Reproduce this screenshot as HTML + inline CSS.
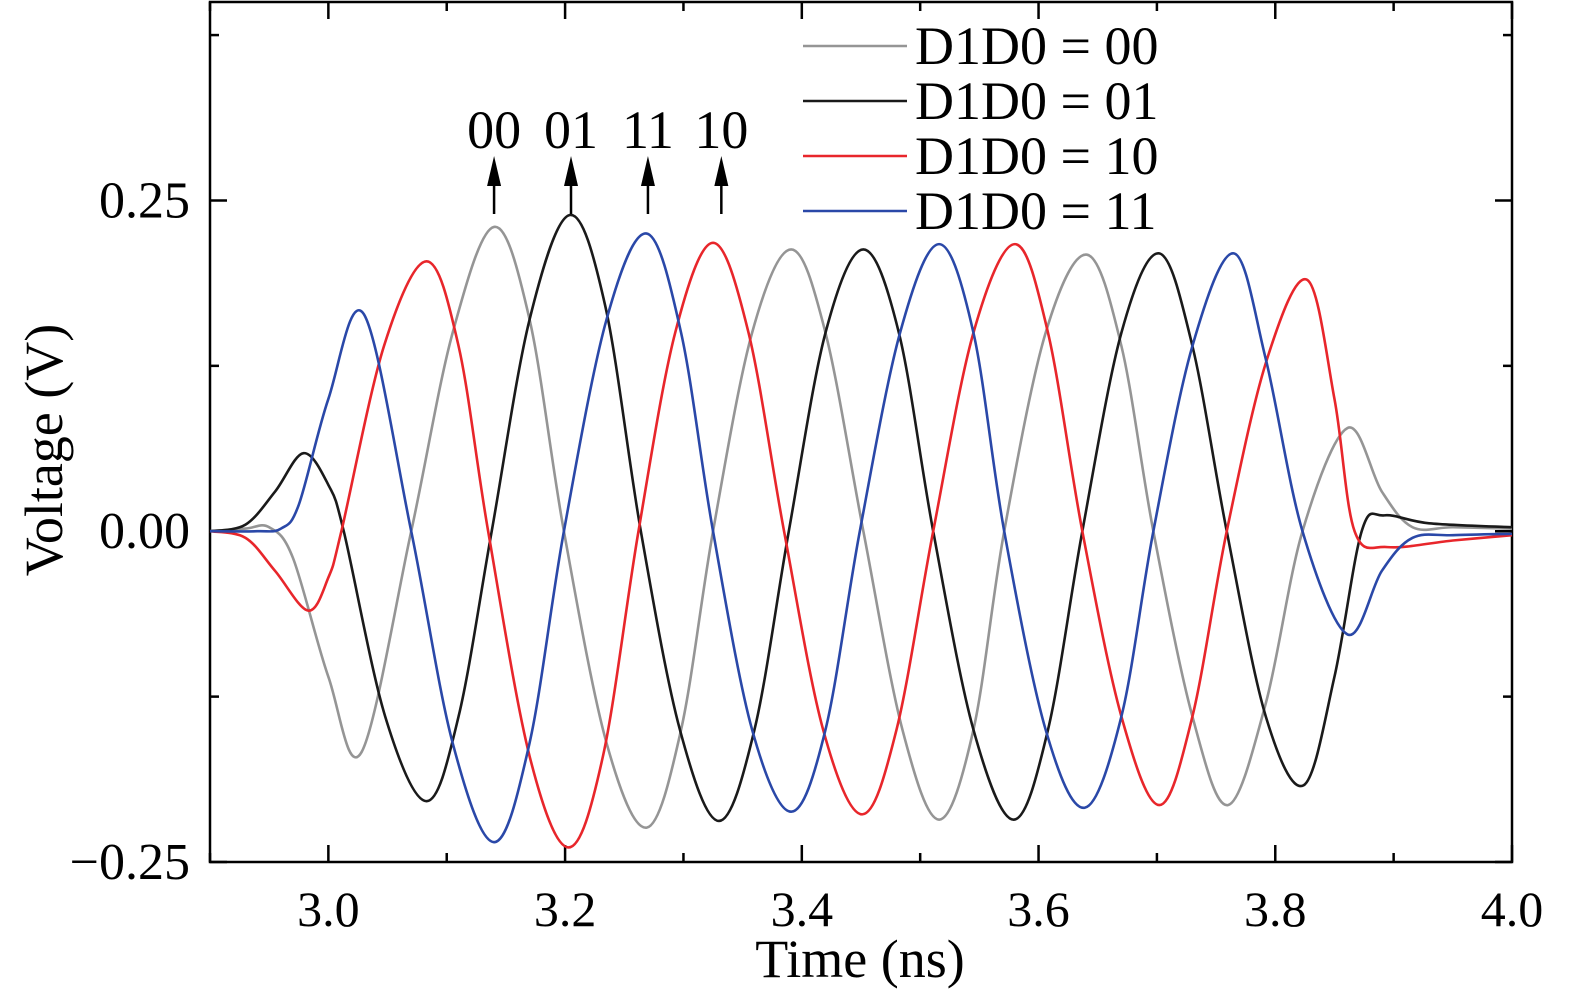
<!DOCTYPE html>
<html><head><meta charset="utf-8"><style>
body{margin:0;background:#fff;}
svg{display:block;font-family:"Liberation Serif",serif;}
</style></head><body>
<svg id="chart" width="1575" height="999" viewBox="0 0 1575 999">
<g id="grid"></g>
<g id="series"></g>
<g id="annot"></g>
<g id="legend"></g>
</svg>
<script>
const xTicks=[3.0,3.2,3.4,3.6,3.8,4.0];
const xTickLabels=["3.0","3.2","3.4","3.6","3.8","4.0"];
const yTicks=[0.25,0,-0.25];
const yTickLabels=["0.25","0.00","\u22120.25"];
const seriesNames=["D1D0 = 00","D1D0 = 01","D1D0 = 10","D1D0 = 11"];
const seriesColors=["#959595","#1a1a1a","#e8262b","#2a48a8"];
const t00=[2.9,2.93,2.95,2.97,3.0,3.028,3.07,3.105,3.14,3.17,3.199,3.235,3.269,3.298,3.325,3.358,3.391,3.42,3.452,3.485,3.516,3.545,3.571,3.606,3.641,3.67,3.697,3.73,3.76,3.792,3.823,3.861,3.89,3.916,3.95,4.0];
const v00=[0,0.002,0.003,-0.02,-0.11,-0.167,0,0.15,0.230,0.16,0,-0.16,-0.224,-0.15,0,0.15,0.213,0.15,0,-0.15,-0.218,-0.15,0,0.15,0.209,0.14,0,-0.14,-0.207,-0.13,0,0.078,0.03,0.003,0.003,0.002];
const t01=[2.9,2.93,2.955,2.979,3.0,3.013,3.048,3.083,3.11,3.138,3.17,3.204,3.234,3.264,3.297,3.330,3.36,3.389,3.42,3.452,3.482,3.511,3.545,3.579,3.608,3.637,3.67,3.702,3.73,3.759,3.792,3.824,3.85,3.873,3.892,3.93,4.0];
const v01=[0,0.005,0.03,0.059,0.035,0,-0.14,-0.204,-0.14,0,0.16,0.239,0.17,0,-0.15,-0.219,-0.15,0,0.15,0.213,0.15,0,-0.15,-0.218,-0.15,0,0.15,0.210,0.14,0,-0.14,-0.192,-0.11,0,0.012,0.006,0.003];
const t10=[2.9,2.93,2.955,2.983,3.0,3.011,3.047,3.083,3.11,3.135,3.17,3.203,3.232,3.262,3.293,3.325,3.355,3.385,3.418,3.451,3.48,3.511,3.545,3.580,3.608,3.637,3.67,3.702,3.73,3.759,3.793,3.827,3.85,3.867,3.895,3.95,4.0];
const v10=[0,-0.005,-0.03,-0.060,-0.035,0,0.14,0.204,0.14,0,-0.17,-0.239,-0.17,0,0.15,0.218,0.15,0,-0.15,-0.214,-0.15,0,0.15,0.217,0.15,0,-0.14,-0.207,-0.14,0,0.13,0.190,0.1,0,-0.012,-0.007,-0.003];
const t11=[2.9,2.94,2.96,2.975,3.0,3.03,3.07,3.105,3.14,3.17,3.199,3.235,3.269,3.298,3.325,3.358,3.391,3.42,3.449,3.483,3.516,3.545,3.571,3.606,3.639,3.67,3.697,3.73,3.765,3.792,3.823,3.861,3.89,3.916,3.95,4.0];
const v11=[0,0,0.002,0.02,0.1,0.164,0,-0.16,-0.235,-0.16,0,0.16,0.225,0.15,0,-0.15,-0.212,-0.15,0,0.15,0.217,0.15,0,-0.15,-0.209,-0.14,0,0.14,0.210,0.13,0,-0.078,-0.03,-0.005,-0.003,-0.002];
const allT=[t00,t01,t10,t11], allV=[v00,v01,v10,v11];
const arrowT=[3.14,3.205,3.27,3.332];
const arrowLabels=["00","01","11","10"];

const NS="http://www.w3.org/2000/svg";
const L=210,R=1512,T=2,B=862;
const X0=2.9,X1=4.0,Y0=-0.25,Y1=0.4;
const xs=t=>L+(t-X0)/(X1-X0)*(R-L);
const ys=v=>B-(v-Y0)/(Y1-Y0)*(B-T);
function mk(tag,attrs,parent){const e=document.createElementNS(NS,tag);for(const k in attrs)e.setAttribute(k,attrs[k]);parent.appendChild(e);return e;}
const grid=document.getElementById('grid'),ser=document.getElementById('series'),ann=document.getElementById('annot'),leg=document.getElementById('legend');

for(let i=0;i<seriesNames.length;i++){
  const t=allT[i],v=allV[i];
  const p=t.map((tt,j)=>[xs(tt),ys(v[j])]);
  let d=`M${p[0][0]},${p[0][1]}`;
  for(let j=0;j<p.length-1;j++){
    const p0=p[Math.max(j-1,0)],p1=p[j],p2=p[j+1],p3=p[Math.min(j+2,p.length-1)];
    const c1=[p1[0]+(p2[0]-p0[0])/6,p1[1]+(p2[1]-p0[1])/6];
    const c2=[p2[0]-(p3[0]-p1[0])/6,p2[1]-(p3[1]-p1[1])/6];
    d+=` C${c1[0]},${c1[1]} ${c2[0]},${c2[1]} ${p2[0]},${p2[1]}`;
  }
  const path=mk('path',{d:d,fill:'none',stroke:seriesColors[i],'stroke-width':2.6},ser);
  
  
}

const frame=mk('rect',{x:L,y:T,width:R-L,height:B-T,fill:'none',stroke:'#000','stroke-width':2.5},grid);


for(let t=2.9;t<=4.0001;t+=0.1){
  const x=xs(t);const major=Math.abs(Math.round(t*10)%2)===0;const len=major?17:9;
  mk('line',{x1:x,y1:B,x2:x,y2:B-len,stroke:'#000','stroke-width':2.5},grid);
  mk('line',{x1:x,y1:T,x2:x,y2:T+len,stroke:'#000','stroke-width':2.5},grid);
}
xTicks.forEach((t,i)=>{
  const tx=mk('text',{x:xs(t),y:926,'font-size':50,'text-anchor':'middle'},grid);
  tx.textContent=xTickLabels[i];
  
  
});
for(let v=-0.25;v<=0.4;v+=0.125){
  const y=ys(v);const major=Math.abs(Math.round(v*8))%2===0;const len=major?17:9;
  mk('line',{x1:L,y1:y,x2:L+len,y2:y,stroke:'#000','stroke-width':2.5},grid);
  mk('line',{x1:R,y1:y,x2:R-len,y2:y,stroke:'#000','stroke-width':2.5},grid);
}
yTicks.forEach((v,i)=>{
  const tx=mk('text',{x:190,y:ys(v)+17,'font-size':52,'text-anchor':'end'},grid);
  tx.textContent=yTickLabels[i];
  
  
});
const xt=mk('text',{x:860,y:977,'font-size':54,'text-anchor':'middle'},grid);
xt.textContent="Time (ns)";


const yt=mk('text',{x:0,y:0,'font-size':54,'text-anchor':'middle',transform:'translate(62,450) rotate(-90)'},grid);
yt.textContent="Voltage (V)";



arrowT.forEach((t,i)=>{
  const x=xs(t);
  mk('line',{x1:x,y1:214,x2:x,y2:180,stroke:'#000','stroke-width':2.5},ann);
  const ah=mk('polygon',{points:`${x-7},186 ${x+7},186 ${x},156`,fill:'#000'},ann);
  
  
  const tx=mk('text',{x:x,y:148,'font-size':54,'text-anchor':'middle'},ann);
  tx.textContent=arrowLabels[i];
  
  
});

seriesNames.forEach((n,i)=>{
  const y=46+i*55;
  const ln=mk('line',{x1:803,y1:y,x2:907,y2:y,stroke:seriesColors[i],'stroke-width':2.6},leg);
  
  
  const tx=mk('text',{x:915,y:y+18,'font-size':54},leg);
  tx.textContent=n;
  
  
});
</script>
</body></html>
